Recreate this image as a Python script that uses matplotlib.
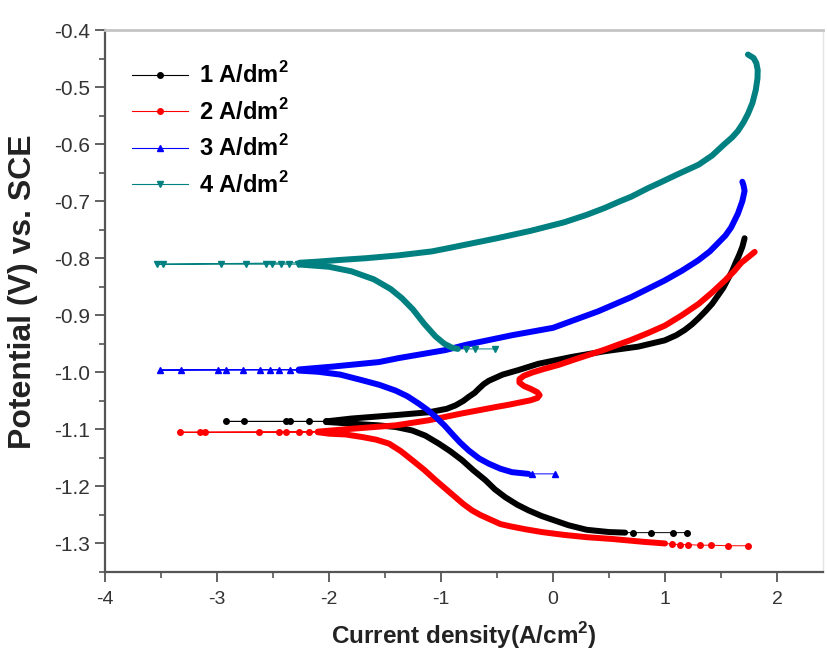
import matplotlib
matplotlib.use("Agg")
import matplotlib.pyplot as plt
from matplotlib.lines import Line2D
from matplotlib.ticker import MultipleLocator, FormatStrFormatter

plt.rcParams['font.family'] = ['Liberation Sans', 'DejaVu Sans']
plt.rcParams['axes.unicode_minus'] = False
plt.rcParams['mathtext.fontset'] = 'custom'
plt.rcParams['mathtext.rm'] = 'Liberation Sans'
plt.rcParams['mathtext.bf'] = 'Liberation Sans:bold'

labels = [r'1 A/dm$^\mathbf{2}$', r'2 A/dm$^\mathbf{2}$', r'3 A/dm$^\mathbf{2}$', r'4 A/dm$^\mathbf{2}$']
colors = ['#000000', '#ff0000', '#0000ff', '#008080']
markers = ['o', 'o', '^', 'v']

# ---- 1 A/dm2 (black) ----
s1_tail_x = [1.196, 1.071, 0.875, 0.715]
s1_tail_y = [-1.281, -1.281, -1.281, -1.281]
s1_cath_x = [0.644, 0.5, 0.3, 0.137, 0.019, -0.1, -0.219, -0.32, -0.426, -0.52, -0.604, -0.71, -0.812, -0.92, -1.020, -1.14, -1.257, -1.40, -1.553, -1.80, -2.025]
s1_cath_y = [-1.281, -1.280, -1.276, -1.268, -1.260, -1.252, -1.242, -1.232, -1.219, -1.205, -1.189, -1.172, -1.154, -1.138, -1.125, -1.111, -1.102, -1.096, -1.093, -1.090, -1.087]
s1_tip_x = [-2.027, -2.176, -2.35, -2.38, -2.761, -2.924]
s1_tip_y = [-1.086, -1.086, -1.086, -1.086, -1.086, -1.086]
s1_anod_x = [-2.025, -1.80, -1.406, -1.108, -0.95, -0.871, -0.80, -0.753, -0.70, -0.664, -0.62, -0.575, -0.45, -0.308, -0.13, 0.167, 0.463, 0.76, 0.997, 1.10, 1.174, 1.24, 1.30, 1.36, 1.42, 1.47, 1.52, 1.56, 1.60, 1.63, 1.66, 1.69, 1.71]
s1_anod_y = [-1.086, -1.081, -1.075, -1.070, -1.064, -1.058, -1.050, -1.043, -1.036, -1.029, -1.021, -1.015, -1.004, -0.996, -0.985, -0.973, -0.963, -0.955, -0.944, -0.935, -0.926, -0.916, -0.905, -0.893, -0.880, -0.866, -0.852, -0.837, -0.822, -0.808, -0.795, -0.780, -0.765]

# ---- 2 A/dm2 (red) ----
s2_tail_x = [1.738, 1.56, 1.412, 1.308, 1.205, 1.13, 1.06]
s2_tail_y = [-1.304, -1.304, -1.303, -1.303, -1.302, -1.302, -1.301]
s2_cath_x = [1.0, 0.8, 0.522, 0.3, 0.1, -0.1, -0.25, -0.38, -0.47, -0.56, -0.65, -0.723, -0.80, -0.871, -0.96, -1.049, -1.15, -1.257, -1.36, -1.464, -1.58, -1.702, -1.85, -1.998, -2.1]
s2_cath_y = [-1.300, -1.297, -1.292, -1.289, -1.285, -1.280, -1.275, -1.270, -1.266, -1.258, -1.250, -1.242, -1.231, -1.219, -1.204, -1.189, -1.171, -1.154, -1.138, -1.125, -1.118, -1.1135, -1.109, -1.1076, -1.105]
s2_tip_x = [-2.176, -2.265, -2.38, -2.443, -2.621, -3.11, -3.155, -3.333]
s2_tip_y = [-1.105, -1.105, -1.105, -1.105, -1.105, -1.105, -1.105, -1.105]
s2_anod_x = [-2.1, -1.8, -1.406, -1.108, -0.812, -0.515, -0.40, -0.30, -0.20, -0.14, -0.12, -0.14, -0.20, -0.26, -0.30, -0.30, -0.26, -0.18, -0.08, 0.05, 0.2, 0.45, 0.70, 0.85, 1.0, 1.15, 1.3, 1.42, 1.53, 1.62, 1.68, 1.75, 1.80]
s2_anod_y = [-1.104, -1.099, -1.093, -1.084, -1.072, -1.061, -1.057, -1.053, -1.049, -1.045, -1.040, -1.035, -1.029, -1.024, -1.018, -1.012, -1.006, -1.000, -0.994, -0.987, -0.977, -0.961, -0.943, -0.931, -0.918, -0.900, -0.880, -0.860, -0.840, -0.822, -0.808, -0.797, -0.789]

# ---- 3 A/dm2 (blue) ----
s3_tail_x = [0.018, -0.19]
s3_tail_y = [-1.178, -1.178]
s3_cath_x = [-0.22, -0.367, -0.47, -0.575, -0.66, -0.753, -0.83, -0.901, -0.97, -1.049, -1.12, -1.198, -1.30, -1.406, -1.55, -1.702, -1.9, -2.1, -2.27]
s3_cath_y = [-1.178, -1.175, -1.169, -1.160, -1.151, -1.137, -1.123, -1.108, -1.093, -1.078, -1.066, -1.055, -1.042, -1.032, -1.022, -1.014, -1.004, -0.999, -0.997]
s3_tip_x = [-2.35, -2.45, -2.53, -2.62, -2.77, -2.92, -2.992, -3.318, -3.511]
s3_tip_y = [-0.996, -0.996, -0.996, -0.996, -0.996, -0.996, -0.996, -0.996, -0.996]
s3_anod_x = [-2.27, -1.969, -1.553, -1.376, -0.96, -0.782, -0.367, 0.0, 0.404, 0.70, 0.997, 1.15, 1.294, 1.40, 1.47, 1.54, 1.59, 1.65, 1.69, 1.71, 1.70, 1.69]
s3_anod_y = [-0.995, -0.990, -0.982, -0.975, -0.961, -0.952, -0.935, -0.922, -0.893, -0.868, -0.839, -0.822, -0.804, -0.788, -0.774, -0.760, -0.746, -0.722, -0.700, -0.682, -0.672, -0.666]

# ---- 4 A/dm2 (teal) ----
s4_tail_x = [-0.516, -0.694, -0.78]
s4_tail_y = [-0.959, -0.959, -0.959]
s4_cath_x = [-0.85, -0.9, -0.97, -1.05, -1.15, -1.25, -1.35, -1.45, -1.6, -1.8, -2.0, -2.265]
s4_cath_y = [-0.959, -0.957, -0.950, -0.937, -0.915, -0.890, -0.870, -0.854, -0.837, -0.823, -0.815, -0.811]
s4_tip_x = [-2.28, -2.354, -2.43, -2.505, -2.56, -2.74, -2.962, -3.48, -3.54]
s4_tip_y = [-0.8105, -0.8105, -0.8105, -0.8105, -0.8105, -0.8105, -0.8105, -0.8105, -0.8105]
s4_anod_x = [-2.265, -2.1, -1.9, -1.67, -1.38, -1.08, -0.9, -0.7, -0.5, -0.2, 0.1, 0.3, 0.46, 0.6, 0.7, 0.85, 0.95, 1.1, 1.3, 1.42, 1.53, 1.60, 1.65, 1.70, 1.74, 1.78, 1.81, 1.825, 1.827, 1.815, 1.79, 1.74]
s4_anod_y = [-0.808, -0.806, -0.803, -0.800, -0.795, -0.788, -0.781, -0.773, -0.765, -0.752, -0.737, -0.724, -0.712, -0.700, -0.692, -0.677, -0.668, -0.654, -0.636, -0.620, -0.600, -0.588, -0.577, -0.562, -0.547, -0.528, -0.505, -0.485, -0.470, -0.458, -0.449, -0.443]

series = [
    (s1_tail_x, s1_tail_y, s1_cath_x, s1_cath_y, s1_tip_x, s1_tip_y, s1_anod_x, s1_anod_y),
    (s2_tail_x, s2_tail_y, s2_cath_x, s2_cath_y, s2_tip_x, s2_tip_y, s2_anod_x, s2_anod_y),
    (s3_tail_x, s3_tail_y, s3_cath_x, s3_cath_y, s3_tip_x, s3_tip_y, s3_anod_x, s3_anod_y),
    (s4_tail_x, s4_tail_y, s4_cath_x, s4_cath_y, s4_tip_x, s4_tip_y, s4_anod_x, s4_anod_y),
]

fig = plt.figure(figsize=(8.27, 6.56), dpi=100)
ax = fig.add_axes([105 / 827, 1 - 572 / 656, (823 - 105) / 827, (572 - 30) / 656])

for (tx, ty, cx, cy, px, py, axx, ayy), c, m in zip(series, colors, markers):
    allx = tx + cx + px + axx
    ally = ty + cy + py + ayy
    ax.plot(allx, ally, color=c, lw=0.7, zorder=2)
    ax.plot(cx, cy, color=c, lw=4.3, solid_capstyle='round', solid_joinstyle='round', zorder=3)
    ax.plot(axx, ayy, color=c, lw=4.3, solid_capstyle='round', solid_joinstyle='round', zorder=3)
    ax.plot(tx + px, ty + py, ls='none', marker=m, ms=4, color=c, zorder=4)

ax.set_xlim(-4, 2.41)
ax.set_ylim(-1.35, -0.4)
ax.xaxis.set_major_locator(MultipleLocator(1))
ax.xaxis.set_minor_locator(MultipleLocator(0.5))
ax.yaxis.set_major_locator(MultipleLocator(0.1))
ax.yaxis.set_minor_locator(MultipleLocator(0.05))
ax.yaxis.set_major_formatter(FormatStrFormatter('%.1f'))
ax.xaxis.set_major_formatter(FormatStrFormatter('%d'))

spc = '#555555'
for s in ['left', 'bottom']:
    ax.spines[s].set_color(spc)
    ax.spines[s].set_linewidth(1.6)
ax.spines['top'].set_color('#c4c4c4')
ax.spines['top'].set_linewidth(2.0)
ax.spines['right'].set_color('#e4e4e4')
ax.spines['right'].set_linewidth(1.0)

ax.tick_params(which='major', direction='out', length=7, width=1.3, color=spc,
               labelsize=14, labelcolor='#333333', pad=4)
ax.tick_params(which='minor', direction='out', length=4, width=1.2, color=spc)
ax.tick_params(axis='x', which='major', pad=7)
ax.tick_params(axis='y', which='major', labelsize=15)

ax.set_xlabel('Current density(A/cm$^\\mathbf{2}$)', fontsize=17.5, fontweight='bold', color='#222222')
ax.set_ylabel('Potential (V) vs. SCE', fontsize=23, fontweight='bold', color='#222222')
ax.xaxis.set_label_coords(0.5, -0.088)
ax.yaxis.set_label_coords(-0.093, 0.517)

handles = [Line2D([], [], color=c, lw=0.8, marker=m, ms=4) for c, m in zip(colors, markers)]
leg = ax.legend(handles, labels, loc='upper left', bbox_to_anchor=(0.024, 0.958),
                frameon=False, prop={'weight': 'bold', 'size': 17},
                handlelength=2.4, handletextpad=0.45, labelspacing=0.45, borderaxespad=0)

fig.savefig('out.png', dpi=100)
